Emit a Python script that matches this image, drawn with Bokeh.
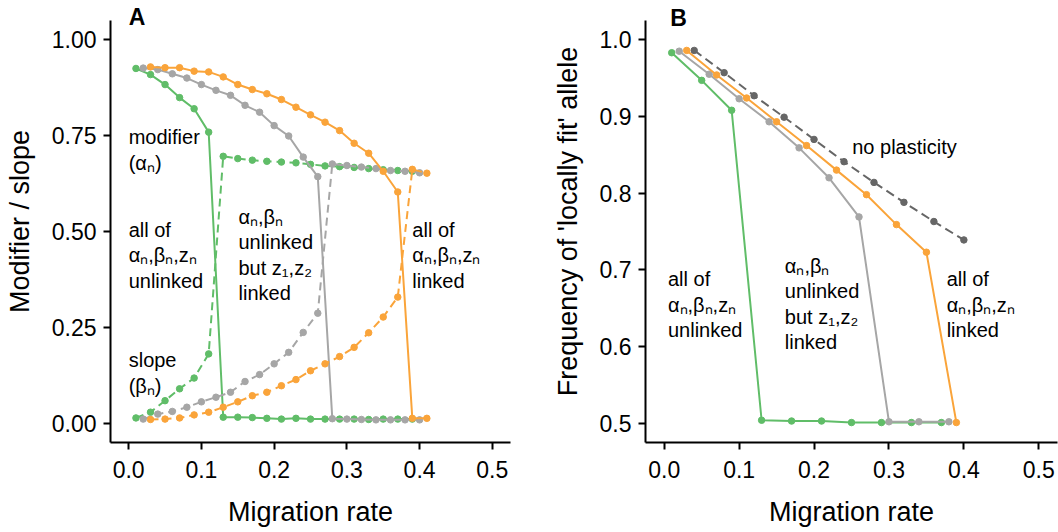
from bokeh.plotting import figure
from bokeh.layouts import row
from bokeh.models import FixedTicker, Range1d, Label, PrintfTickFormatter
from bokeh.core.properties import value
from bokeh.embed import file_html
from bokeh.resources import INLINE

# ---------------- Panel A data ----------------
a_x_green = [0.01, 0.03, 0.05, 0.07, 0.09, 0.11, 0.13, 0.15, 0.17, 0.19,
             0.21, 0.23, 0.25, 0.27, 0.29, 0.31, 0.33, 0.35, 0.37, 0.39]
a_alpha_green = [0.925, 0.909, 0.883, 0.849, 0.820, 0.759, 0.016, 0.016, 0.015, 0.013,
                 0.011, 0.013, 0.011, 0.011, 0.011, 0.011, 0.010, 0.011, 0.011, 0.011]
a_beta_green = [0.014, 0.029, 0.059, 0.090, 0.118, 0.181, 0.696, 0.690, 0.686, 0.683,
                0.681, 0.679, 0.675, 0.671, 0.669, 0.667, 0.664, 0.661, 0.659, 0.657]

a_x_gray = [0.02, 0.04, 0.06, 0.08, 0.10, 0.12, 0.14, 0.16, 0.18, 0.20,
            0.22, 0.24, 0.26, 0.28, 0.30, 0.32, 0.34, 0.36, 0.38, 0.40]
a_alpha_gray = [0.926, 0.922, 0.911, 0.900, 0.883, 0.868, 0.855, 0.829, 0.811, 0.776,
                0.749, 0.694, 0.643, 0.012, 0.011, 0.010, 0.009, 0.009, 0.009, 0.009]
a_beta_gray = [0.011, 0.024, 0.031, 0.042, 0.056, 0.068, 0.081, 0.109, 0.127, 0.155,
               0.185, 0.237, 0.287, 0.676, 0.672, 0.668, 0.664, 0.659, 0.657, 0.653]

a_x_orange = [0.03, 0.05, 0.07, 0.09, 0.11, 0.13, 0.15, 0.17, 0.19, 0.21,
              0.23, 0.25, 0.27, 0.29, 0.31, 0.33, 0.35, 0.37, 0.39, 0.41]
a_alpha_orange = [0.929, 0.927, 0.927, 0.918, 0.916, 0.903, 0.883, 0.870, 0.859, 0.844,
                  0.824, 0.804, 0.785, 0.763, 0.730, 0.704, 0.657, 0.603, 0.013, 0.013]
a_beta_orange = [0.010, 0.011, 0.014, 0.022, 0.029, 0.042, 0.056, 0.072, 0.081, 0.098,
                 0.114, 0.137, 0.155, 0.174, 0.198, 0.236, 0.277, 0.329, 0.662, 0.652]

a_yticks = [0.0, 0.25, 0.5, 0.75, 1.0]
xticks = [0.0, 0.1, 0.2, 0.3, 0.4, 0.5]

# ---------------- Panel B data ----------------
b_x_green = [0.01, 0.05, 0.09, 0.13, 0.17, 0.21, 0.25, 0.29, 0.33, 0.37]
b_freq_green = [0.983, 0.947, 0.908, 0.504, 0.503, 0.503, 0.501, 0.501, 0.501, 0.501]
b_x_gray = [0.02, 0.06, 0.10, 0.14, 0.18, 0.22, 0.26, 0.30, 0.34, 0.38]
b_freq_gray = [0.985, 0.955, 0.923, 0.893, 0.859, 0.820, 0.769, 0.502, 0.502, 0.502]
b_x_orange = [0.03, 0.07, 0.11, 0.15, 0.19, 0.23, 0.27, 0.31, 0.35, 0.39]
b_freq_orange = [0.986, 0.954, 0.924, 0.893, 0.862, 0.830, 0.798, 0.759, 0.723, 0.501]
b_x_noplast = [0.04, 0.08, 0.12, 0.16, 0.20, 0.24, 0.28, 0.32, 0.36, 0.40]
b_freq_noplast = [0.986, 0.957, 0.927, 0.899, 0.870, 0.841, 0.814, 0.788, 0.763, 0.739]

b_yticks = [0.5, 0.6, 0.7, 0.8, 0.9, 1.0]

GREEN = "#60BD68"
ORANGE = "#FAA43A"
GRAY = "#A6A6A6"
DARK = "#666666"
FONT = "Liberation Sans"

FRAME_H = 442      # frame includes a 20px strip above the axis for the panel letter
AXIS_H = 422       # drawn height of the y axis line


def style(p, yticks, yfmt, ybounds):
    p.xgrid.visible = False
    p.ygrid.visible = False
    p.outline_line_color = None
    p.background_fill_color = "white"
    p.border_fill_color = "white"
    p.xaxis.ticker = FixedTicker(ticks=xticks)
    p.yaxis.ticker = FixedTicker(ticks=yticks)
    p.xaxis.formatter = PrintfTickFormatter(format="%.1f")
    p.yaxis.formatter = PrintfTickFormatter(format=yfmt)
    p.yaxis.bounds = ybounds
    for ax in (p.xaxis[0], p.yaxis[0]):
        ax.axis_line_width = 2
        ax.axis_line_color = "black"
        ax.major_tick_line_width = 2
        ax.major_tick_line_color = "black"
        ax.major_tick_out = 7
        ax.major_tick_in = 0
        ax.minor_tick_line_color = None
        ax.major_label_text_font = FONT
        ax.major_label_text_font_size = "23px"
        ax.major_label_text_color = "black"
        ax.axis_label_text_font = FONT
        ax.axis_label_text_font_size = "27px"
        ax.axis_label_text_font_style = "normal"
        ax.axis_label_text_color = "black"
    p.xaxis[0].major_label_standoff = 11
    p.yaxis[0].major_label_standoff = 7
    p.xaxis[0].axis_label_standoff = 16
    p.yaxis[0].axis_label_standoff = 14


def series(p, x, y, color, dash="solid"):
    p.line(x, y, line_color=color, line_width=2, line_dash=dash)
    p.scatter(x, y, marker="circle", size=6.5, fill_color=color, line_color=color)


def annot(p, x, y, txt):
    p.text(x=[x], y=[y], text=[txt], text_font=value(FONT), text_font_size="20px",
           text_baseline="top", text_align="left", text_color="black",
           text_line_height=1.16)


def letter(p, x, y, txt):
    p.add_layout(Label(x=x, y=y, text=txt, text_font=FONT, text_font_size="23px",
                       text_font_style="bold", text_color="black",
                       text_baseline="top", text_align="left"))


# ---------------- Panel A ----------------
a_lo, a_hi = -0.05, 1.05
a_top = a_lo + (a_hi - a_lo) * FRAME_H / AXIS_H
pA = figure(frame_width=400, frame_height=FRAME_H, min_border_left=110, min_border_right=19,
            min_border_top=0, min_border_bottom=90,
            x_range=Range1d(-0.025, 0.525), y_range=Range1d(a_lo, a_top),
            output_backend="svg", toolbar_location=None,
            x_axis_label="Migration rate", y_axis_label="Modifier / slope")
style(pA, a_yticks, "%.2f", (a_lo, a_hi))

series(pA, a_x_green, a_alpha_green, GREEN)
series(pA, a_x_green, a_beta_green, GREEN, "8 5")
series(pA, a_x_gray, a_alpha_gray, GRAY)
series(pA, a_x_gray, a_beta_gray, GRAY, "8 5")
series(pA, a_x_orange, a_alpha_orange, ORANGE)
series(pA, a_x_orange, a_beta_orange, ORANGE, "8 5")

annot(pA, 0.0, 0.775, "modifier\n(\u03b1\u2099)")
annot(pA, 0.0, 0.533, "all of\n\u03b1\u2099,\u03b2\u2099,z\u2099\nunlinked")
annot(pA, 0.0, 0.193, "slope\n(\u03b2\u2099)")
annot(pA, 0.151, 0.567, "\u03b1\u2099,\u03b2\u2099\nunlinked\nbut z\u2081,z\u2082\nlinked")
annot(pA, 0.39, 0.533, "all of\n\u03b1\u2099,\u03b2\u2099,z\u2099\nlinked")

letter(pA, 0.0, 1.092, "A")

# ---------------- Panel B ----------------
b_lo, b_hi = 0.475, 1.025
b_top = b_lo + (b_hi - b_lo) * FRAME_H / AXIS_H
pB = figure(frame_width=412, frame_height=FRAME_H, min_border_left=116, min_border_right=1,
            min_border_top=0, min_border_bottom=90,
            x_range=Range1d(-0.025, 0.525), y_range=Range1d(b_lo, b_top),
            output_backend="svg", toolbar_location=None,
            x_axis_label="Migration rate", y_axis_label="Frequency of 'locally fit' allele")
style(pB, b_yticks, "%.1f", (b_lo, b_hi))

series(pB, b_x_noplast, b_freq_noplast, DARK, "9 5")
series(pB, b_x_green, b_freq_green, GREEN)
series(pB, b_x_gray, b_freq_gray, GRAY)
series(pB, b_x_orange, b_freq_orange, ORANGE)

annot(pB, 0.251, 0.874, "no plasticity")
annot(pB, 0.005, 0.702, "all of\n\u03b1\u2099,\u03b2\u2099,z\u2099\nunlinked")
annot(pB, 0.161, 0.720, "\u03b1\u2099,\u03b2\u2099\nunlinked\nbut z\u2081,z\u2082\nlinked")
annot(pB, 0.377, 0.702, "all of\n\u03b1\u2099,\u03b2\u2099,z\u2099\nlinked")

letter(pB, 0.008, 1.045, "B")

layout = row(pA, pB)
open("out.html", "w").write(file_html(layout, INLINE))
